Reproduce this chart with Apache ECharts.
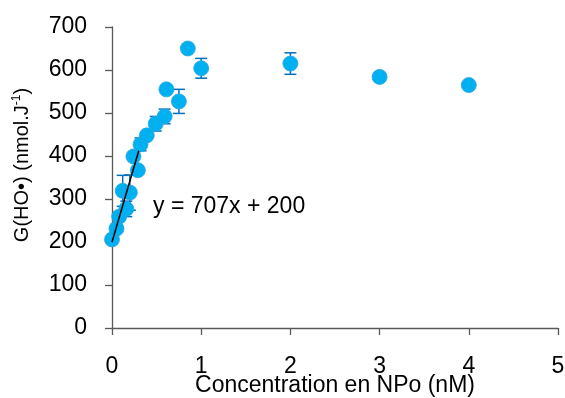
<!DOCTYPE html>
<html>
<head>
<meta charset="utf-8">
<script src="https://cdn.jsdelivr.net/npm/echarts@6/dist/echarts.min.js"></script>
<style>
html,body{margin:0;padding:0;background:#fff;}
#chart{width:565px;height:398px;}
</style>
</head>
<body>
<div id="chart"></div>
<script>
// ---- data ----
const concentrations = [0, 0.05, 0.08, 0.12, 0.16, 0.2, 0.24, 0.29, 0.32, 0.39, 0.49, 0.59, 0.61, 0.75, 0.85, 1, 2, 3, 4];
const gValues        = [206, 231, 259, 319, 277, 315, 399, 367, 427, 448, 475, 492, 555, 527, 650, 604, 615, 584, 565];
const gErrors        = [0, 0, 0, 36, 18, 41, 0, 0, 15, 0, 17, 17, 0, 28, 0, 23, 25, 0, 0];
const trendSlope = 707;
const trendIntercept = 200;
const trendXRange = [0, 0.3];
const xTicks = [0, 1, 2, 3, 4, 5];
const yTicks = [0, 100, 200, 300, 400, 500, 600, 700];
const equationText = 'y = 707x + 200';

const FONT = 'Liberation Sans';
const scatterData = concentrations.map((x, i) => [x, gValues[i]]);
const errData = concentrations.map((x, i) => [x, gValues[i], gErrors[i]]);
const trendData = trendXRange.map(x => [x, trendSlope * x + trendIntercept]);

const chart = echarts.init(document.getElementById('chart'));
chart.setOption({
  animation: false,
  backgroundColor: '#fff',
  grid: { left: 112, right: 7, top: 27, bottom: 70, containLabel: false, outerBoundsMode: 'none' },
  xAxis: {
    type: 'value',
    min: xTicks[0], max: xTicks[xTicks.length - 1], interval: 1,
    name: 'Concentration en NPo (nM)',
    nameLocation: 'middle', nameGap: 46, nameMoveOverlap: false,
    nameTextStyle: { fontFamily: FONT, fontSize: 23, color: '#000' },
    axisLine: { lineStyle: { color: '#595959', width: 1.3 } },
    axisTick: { show: true, inside: false, length: 7, lineStyle: { color: '#595959', width: 1.3 } },
    axisLabel: { fontFamily: FONT, fontSize: 23, color: '#000', margin: 27 },
    splitLine: { show: false }
  },
  yAxis: {
    type: 'value',
    min: yTicks[0], max: yTicks[yTicks.length - 1], interval: 100,
    axisLine: { show: true, lineStyle: { color: '#595959', width: 1.3 } },
    axisTick: { show: true, inside: false, length: 7, lineStyle: { color: '#595959', width: 1.3 } },
    axisLabel: { fontFamily: FONT, fontSize: 23, color: '#000', margin: 25 },
    splitLine: { show: false }
  },
  graphic: [
    {
      type: 'text', x: 22, y: 165, rotation: Math.PI / 2,
      style: {
        text: 'G(HO•) (nmol.J{sup|-1})',
        fontFamily: FONT, fontSize: 20, fill: '#000',
        align: 'center', verticalAlign: 'middle',
        rich: { sup: { fontFamily: FONT, fontSize: 12, fill: '#000', padding: [0, 0, 10, 0] } }
      }
    },
    {
      type: 'text', x: 153, y: 207,
      style: { text: equationText, fontFamily: FONT, fontSize: 23, fill: '#000', align: 'left', verticalAlign: 'middle' }
    }
  ],
  series: [
    {
      type: 'custom',
      data: errData,
      z: 1,
      renderItem: function (params, api) {
        const x = api.value(0), y = api.value(1), e = api.value(2);
        if (!e) return null;
        const top = api.coord([x, y + e]);
        const bot = api.coord([x, y - e]);
        const hw = 6;
        const st = { stroke: '#0070C0', lineWidth: 1.5 };
        return {
          type: 'group',
          children: [
            { type: 'line', shape: { x1: top[0], y1: top[1], x2: bot[0], y2: bot[1] }, style: st },
            { type: 'line', shape: { x1: top[0] - hw, y1: top[1], x2: top[0] + hw, y2: top[1] }, style: st },
            { type: 'line', shape: { x1: bot[0] - hw, y1: bot[1], x2: bot[0] + hw, y2: bot[1] }, style: st }
          ]
        };
      }
    },
    {
      type: 'scatter',
      data: scatterData,
      symbol: 'circle',
      symbolSize: 15,
      z: 2,
      itemStyle: { color: '#00B0F0', opacity: 1, borderColor: '#2BA6DE', borderWidth: 0.8 }
    },
    {
      type: 'line',
      data: trendData,
      showSymbol: false,
      symbol: 'none',
      z: 3,
      lineStyle: { color: '#000', width: 1.5 }
    }
  ]
});
</script>
</body>
</html>
